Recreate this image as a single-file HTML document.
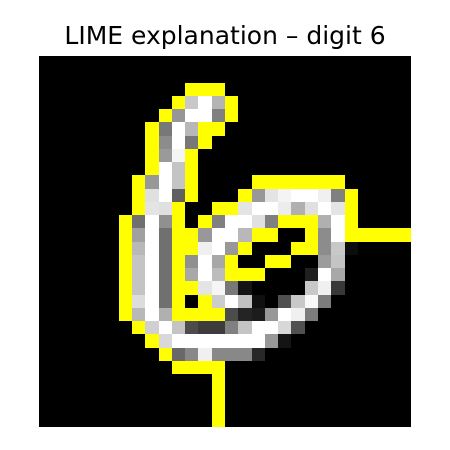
<!DOCTYPE html>
<html><head><meta charset="utf-8"><style>
html,body{margin:0;padding:0;background:#fff;width:450px;height:450px;overflow:hidden}
svg{display:block}
</style></head><body>
<svg id="chart" width="450" height="450" viewBox="0 0 450 450" xmlns="http://www.w3.org/2000/svg">
<text x="225" y="44" text-anchor="middle" font-family="'DejaVu Sans', 'Liberation Sans', sans-serif" font-size="25" fill="#000">LIME explanation – digit 6</text>
<rect x="39" y="56" width="372" height="371" fill="#000"/>
<g id="cells" shape-rendering="crispEdges"></g>
</svg>
<script>
// pixel rows: "col:value" tokens; Y = yellow boundary, otherwise grey level hex
const rowIndex = [2,3,4,5,6,7,8,9,10,11,12,13,14,15,16,17,18,19,20,21,22,23,24,25,26,27];
const rowPixels = [
"11:Y 12:Y 13:Y",
"10:Y 11:C8 12:FF 13:B4 14:Y",
"9:Y 10:96 11:FF 12:FF 13:80 14:Y",
"8:Y 9:78 10:FF 11:B8 12:Y 13:Y",
"8:Y 9:8C 10:FF 11:78 12:Y",
"8:Y 9:9A 10:F5 11:Y",
"8:Y 9:FF 10:C4 11:Y",
"7:Y 8:98 9:FF 10:C4 11:Y 16:Y 17:Y 18:Y 19:Y 20:Y 21:Y 22:Y",
"7:Y 8:E0 9:FF 10:60 11:Y 15:Y 16:98 17:E4 18:F4 19:FF 20:FF 21:F0 22:80 23:Y",
"7:Y 8:E4 9:E0 10:Y 13:Y 14:Y 15:E4 16:FF 17:FF 18:EC 19:B0 20:E0 21:FF 22:E4 23:Y",
"6:Y 7:70 8:FF 9:90 10:Y 12:Y 13:80 14:FF 15:FF 16:E0 17:80 18:Y 19:Y 20:Y 21:B0 22:FF 23:Y",
"6:Y 7:A0 8:FF 9:70 10:Y 11:Y 12:98 13:FF 14:FF 15:B8 16:Y 17:Y 20:Y 21:8C 22:FF 23:Y 24:Y 25:Y 26:Y 27:Y",
"6:Y 7:B8 8:FF 9:70 10:Y 11:Y 12:F0 13:FF 14:98 15:Y 19:Y 20:Y 21:8C 22:C8 23:0C",
"6:Y 7:C4 8:FF 9:70 10:Y 11:90 12:FF 13:A8 14:Y 17:Y 18:Y 21:9C 22:C4",
"6:Y 7:C4 8:FF 9:70 10:Y 11:A8 12:FF 13:BC 14:Y 15:Y 16:Y 20:20 21:FF 22:A8",
"6:Y 7:C4 8:FF 9:70 10:Y 11:Y 12:E4 13:F5 14:78 15:14 20:C8 21:F0 22:38",
"6:Y 7:DC 8:FF 9:70 10:Y 12:Y 13:CC 14:FF 15:C0 16:10 18:50 19:C8 20:F8 21:7C",
"6:Y 7:B8 8:FF 9:B0 10:Y 11:Y 12:Y 13:Y 14:4C 15:24 16:1C 17:98 18:FF 19:F0 20:7C",
"7:Y 8:D0 9:FF 10:C4 11:4C 12:3C 13:3C 14:80 15:C4 16:FF 17:FF 18:D8 19:50",
"8:Y 9:D8 10:FF 11:FF 12:FF 13:FF 14:FF 15:FF 16:FF 17:98 18:14",
"9:Y 10:68 11:88 12:F0 13:88 14:88 15:88 16:28",
"10:Y 11:Y 12:Y 13:Y",
"13:Y","13:Y","13:Y","13:Y"
];
const X0=39, Y0=56, CW=372/28, CH=371/28;
const g=document.getElementById('cells');
rowIndex.forEach((r,i)=>{
  rowPixels[i].split(' ').forEach(tok=>{
    const [c,v]=tok.split(':');
    const col=+c;
    const rect=document.createElementNS('http://www.w3.org/2000/svg','rect');
    
    
    const x1=Math.round(X0+col*CW), x2=Math.round(X0+(col+1)*CW);
    const y1=Math.round(Y0+r*CH), y2=Math.round(Y0+(r+1)*CH);
    rect.setAttribute('x',x1);rect.setAttribute('y',y1);
    rect.setAttribute('width',x2-x1);rect.setAttribute('height',y2-y1);
    rect.setAttribute('fill', v==='Y' ? '#ffff00' : '#'+v+v+v);
    g.appendChild(rect);
  });
});
</script>
</body></html>
